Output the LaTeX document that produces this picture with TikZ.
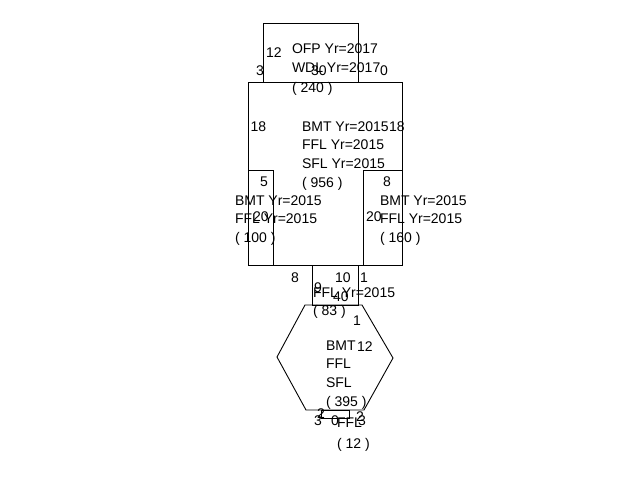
\documentclass[tikz,border=0pt]{standalone}
\usepackage{fontspec}
\setmainfont{Liberation Sans}
\begin{document}
\begin{tikzpicture}[x=1pt,y=-1pt,
  lbl/.style={anchor=base west, inner sep=0pt, outer sep=0pt, font=\fontsize{14}{16}\selectfont},
  box/.style={draw=black, line width=0.9pt}]
\useasboundingbox (0,0) rectangle (640,480);
% shapes
\draw[box] (263,23) rectangle (358,82);
\draw[box] (248,82) rectangle (402,265);
\draw[box] (248,170) rectangle (273,265);
\draw[box] (363,170) rectangle (402,265);
\draw[box] (312,265) rectangle (358,305);
\draw[box] (305,305) -- (362,305) -- (393,358) -- (364,410) -- (306,410) -- (277,357) -- cycle;
\draw[box] (321,410) rectangle (349,418);
% top rect texts
\node[lbl] (a1) at (266,57.5) {12};
\node[lbl] (a2) at (292,53) {OFP Yr=2017};
\node[lbl] (a3) at (256,75) {3};
\node[lbl] (a4) at (292,72) {WDL Yr=2017};
\node[lbl] (a5) at (311,75) {30};
\node[lbl] (a6) at (380,75) {0};
\node[lbl] (a7) at (292,92) {( 240 )};
% big rect texts
\node[lbl] (b1) at (250.5,131) {18};
\node[lbl] (b2) at (302,131) {BMT Yr=2015};
\node[lbl] (b3) at (389,131) {18};
\node[lbl] (b4) at (302,149.5) {FFL Yr=2015};
\node[lbl] (b5) at (302,168) {SFL Yr=2015};
\node[lbl] (b6) at (302,187) {( 956 )};
% left rect texts
\node[lbl] (c1) at (260,186) {5};
\node[lbl] (c2) at (235,205) {BMT Yr=2015};
\node[lbl] (c3) at (253,221.5) {20};
\node[lbl] (c4) at (235,223.5) {FFL Yr=2015};
\node[lbl] (c5) at (235,242) {( 100 )};
% right rect texts
\node[lbl] (d1) at (383,186) {8};
\node[lbl] (d2) at (380,205) {BMT Yr=2015};
\node[lbl] (d3) at (366,221.5) {20};
\node[lbl] (d4) at (380,223.5) {FFL Yr=2015};
\node[lbl] (d5) at (380,242) {( 160 )};
% middle rect texts
\node[lbl] (e1) at (291,282) {8};
\node[lbl] (e2) at (335,282) {10};
\node[lbl] (e3) at (360,282) {1};
\node[lbl] (e4) at (314,292) {9};
\node[lbl] (e5) at (313,297) {FFL Yr=2015};
\node[lbl] (e6) at (333,301) {40};
\node[lbl] (e7) at (313,315) {( 83 )};
% hexagon texts
\node[lbl] (f1) at (353,325) {1};
\node[lbl] (f2) at (326,350) {BMT};
\node[lbl] (f3) at (357,351) {12};
\node[lbl] (f4) at (326,368.5) {FFL};
\node[lbl] (f5) at (326,387) {SFL};
\node[lbl] (f6) at (326,406) {( 395 )};
% bottom texts
\node[lbl] (g1) at (317,418) {2};
\node[lbl] (g2) at (314,425) {3};
\node[lbl] (g3) at (331,425) {0};
\node[lbl] (g4) at (337,427) {FFL};
\node[lbl] (g5) at (358,425) {3};
\node[lbl] (g6) at (356,421) {2};
\node[lbl] (g7) at (337,448) {( 12 )};
\end{tikzpicture}
\end{document}
